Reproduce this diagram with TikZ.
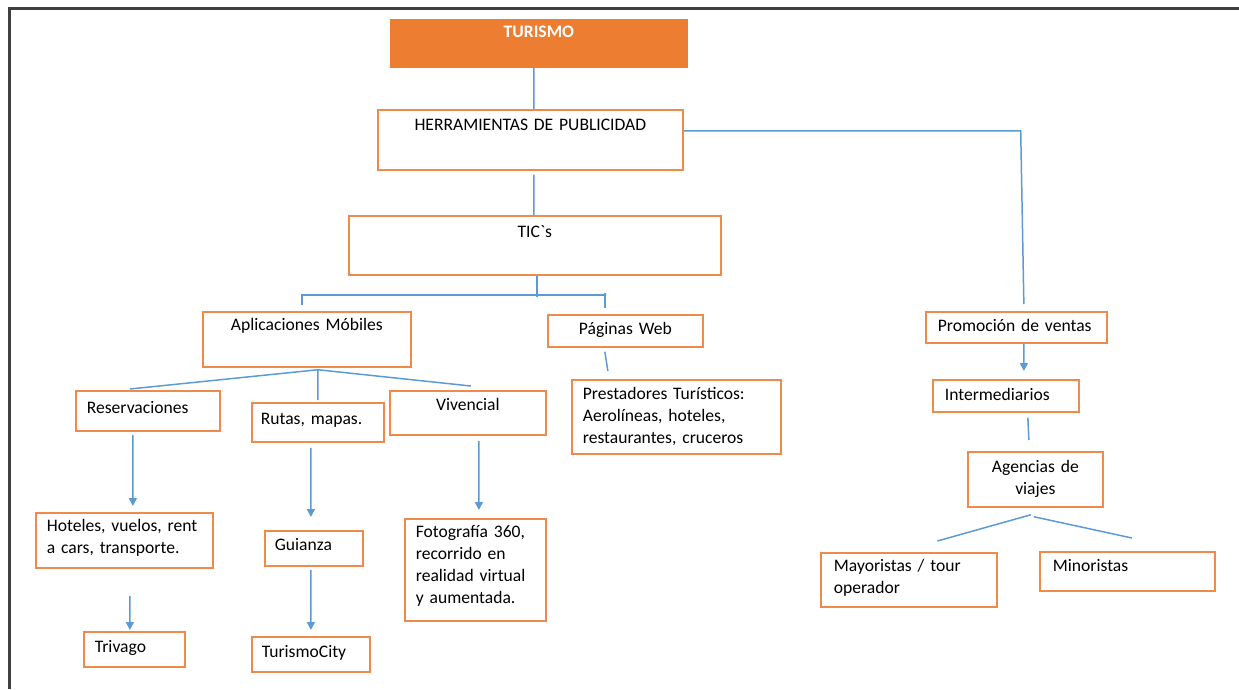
\documentclass[tikz,border=0pt]{standalone}
\usepackage{fontspec}
\setmainfont{Carlito}
\usepackage{tikz}
\usetikzlibrary{arrows.meta}
\definecolor{naranja}{HTML}{ED7D31}
\definecolor{borde}{HTML}{F08A4B}
\definecolor{azul}{HTML}{5B9BD5}

\begin{document}
\begin{tikzpicture}[x=0.02cm,y=-0.02cm,
  caja/.style={draw=borde,line width=1pt,anchor=north west,inner ysep=0pt,inner xsep=0.22cm,align=left,font=\fontsize{10}{12.5}\selectfont},
  linea/.style={azul,line width=0.85pt},
  flecha/.style={linea,-{Triangle[length=4.5pt,width=4.5pt]}}]

\useasboundingbox (0,0) rectangle (1239,689);
\draw[line width=1.2pt,black!75] (9.5,689) -- (9.5,8.5) -- (1239,8.5);

        \node[caja,fill=naranja,draw=naranja,text=white,font=\fontsize{10}{12.5}\selectfont\bfseries,align=center,inner xsep=0.2cm,text width=5.52cm,text height=0.36cm,text depth=0.58cm] (tur) at (390,19) {TURISMO};
        \node[caja,align=center,inner xsep=0.2cm,text width=5.7cm,text height=0.41cm,text depth=0.79cm] (her) at (377,109) {HERRAMIENTAS DE PUBLICIDAD};
        \node[caja,align=center,inner xsep=0.2cm,text width=7.04cm,text height=0.43cm,text depth=0.75cm] (tic) at (348,215) {TIC\textasciigrave s};

        \node[caja,align=center,inner xsep=0.2cm,text width=3.76cm,text height=0.38cm,text depth=0.72cm] (apl) at (202,311) {Aplicaciones Móbiles};
        \node[caja,align=center,inner xsep=0.2cm,text width=2.7cm,text height=0.40cm,text depth=0.24cm] (pag) at (547,314) {Páginas Web};
        \node[caja,text width=3.74cm,text height=0.40cm,text depth=1.08cm] (pre) at (571,379) {Prestadores Turísticos:\\Aerolíneas, hoteles,\\restaurantes, cruceros};

        \node[caja,text width=2.44cm,text height=0.46cm,text depth=0.34cm] (res) at (75,390) {Reservaciones};
        \node[caja,inner xsep=0.18cm,text width=2.28cm,text height=0.44cm,text depth=0.34cm] (rut) at (251,402) {Rutas, mapas.};
        \node[caja,align=center,inner xsep=0.2cm,text width=2.72cm,text height=0.40cm,text depth=0.48cm] (viv) at (389,390) {Vivencial};

        \node[caja,text width=3.1cm,text height=0.38cm,text depth=0.72cm] (hot) at (35,512) {Hoteles, vuelos, rent\\a cars, transporte.};
        \node[caja,inner xsep=0.2cm,text width=1.56cm,text height=0.40cm,text depth=0.30cm] (gui) at (264,530) {Guianza};
        \node[caja,text width=2.38cm,text height=0.38cm,text depth=1.66cm] (fot) at (404,518) {Fotografía 360,\\recorrido en\\realidad virtual\\y aumentada.};
        \node[caja,text width=1.58cm,text height=0.42cm,text depth=0.28cm] (tri) at (83,631) {Trivago};
        \node[caja,inner xsep=0.2cm,text width=1.96cm,text height=0.42cm,text depth=0.28cm] (tci) at (251,636) {TurismoCity};

        \node[caja,inner xsep=0.24cm,text width=3.14cm,text height=0.40cm,text depth=0.22cm] (pro) at (925,311) {Promoción de ventas};
        \node[caja,inner xsep=0.24cm,text width=2.44cm,text height=0.42cm,text depth=0.22cm] (int) at (932,379) {Intermediarios};
        \node[caja,align=center,inner xsep=0.2cm,text width=2.3cm,text height=0.42cm,text depth=0.68cm] (age) at (967,451) {Agencias de\\viajes};
        \node[caja,inner xsep=0.26cm,text width=3.0cm,text height=0.38cm,text depth=0.70cm] (may) at (820,552) {Mayoristas / tour\\operador};
        \node[caja,inner xsep=0.26cm,text width=2.98cm,text height=0.40cm,text depth=0.38cm] (min) at (1039,551) {Minoristas};

        % lineas de la parte alta
        \draw[linea] ([shift={(-5,0)}]tur.south) -- ([shift={(3.5,0)}]her.north);
        \draw[linea] ([shift={(0,-9)}]her.east) -- ++(337,0) -- ([shift={(7.5,-7)}]pro.north);
        \draw[linea] ([shift={(3.5,4)}]her.south) -- ([shift={(-1,0)}]tic.north);
        \draw[linea] ([shift={(2,0)}]tic.south) -- ++(0,21);
        \draw[linea] ([shift={(-5,-6)}]apl.north) |- ([shift={(-20.5,-19)}]pag.north) -- ([shift={(-20.5,-6)}]pag.north);
        \draw[linea] ([shift={(-20.5,-19)}]pag.north) -- ++(0,-2);
        \draw[linea] ([shift={(-20.5,4)}]pag.south) -- ([shift={(-68.5,-8)}]pre.north);

        % aplicaciones
        \draw[linea] ([shift={(11,2)}]apl.south) -- ([shift={(-18,-1)}]res.north);
        \draw[linea] ([shift={(11,2)}]apl.south) -- ([shift={(0,-2)}]rut.north);
        \draw[linea] ([shift={(11,2)}]apl.south) -- ([shift={(3,-4)}]viv.north);
        \draw[flecha] ([shift={(-15,3)}]res.south) -- ([shift={(8.5,-6)}]hot.north);
        \draw[flecha] ([shift={(5.5,27)}]hot.south) -- ([shift={(-4.5,-1)}]tri.north);
        \draw[flecha] ([shift={(-7,5)}]rut.south) -- ([shift={(-3,-13)}]gui.north);
        \draw[flecha] ([shift={(-3,3)}]gui.south) -- ([shift={(0,-6)}]tci.north);
        \draw[flecha] ([shift={(11,5)}]viv.south) -- ([shift={(3.5,-8)}]fot.north);

        % promocion
        \draw[flecha] ([shift={(7.5,0)}]pro.south) -- ([shift={(18,-8)}]int.north);
        \draw[linea] ([shift={(22,5)}]int.south) -- ([shift={(-6.5,-11)}]age.north);
        \draw[linea] ([shift={(-4.5,7)}]age.south) -- ([shift={(28.5,-11)}]may.north);
        \draw[linea] ([shift={(-1.5,9)}]age.south) -- ([shift={(4.5,-13)}]min.north);
\end{tikzpicture}
\end{document}
